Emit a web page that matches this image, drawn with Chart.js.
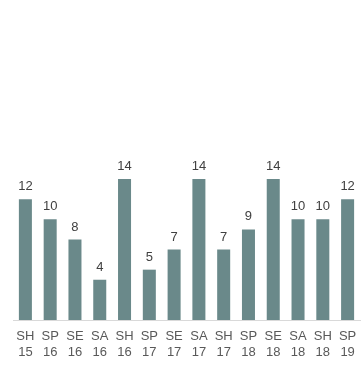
<!DOCTYPE html>
<html>
<head>
<meta charset="utf-8">
<script src="https://cdn.jsdelivr.net/npm/chart.js@4/dist/chart.umd.min.js"></script>
<style>
  html, body { margin: 0; padding: 0; background: #fff; }
  #wrap { width: 364px; height: 371px; position: relative; }
</style>
</head>
<body>
<div id="wrap"><canvas id="barChart"></canvas></div>
<script>
// 데이터
const seasons = ['SH', 'SP', 'SE', 'SA', 'SH', 'SP', 'SE', 'SA', 'SH', 'SP', 'SE', 'SA', 'SH', 'SP'];
const years = ['15', '16', '16', '16', '16', '17', '17', '17', '17', '18', '18', '18', '18', '19'];
const counts = [12, 10, 8, 4, 14, 5, 7, 14, 7, 9, 14, 10, 10, 12];

const labels = seasons.map((s, i) => [s, years[i]]);

// 막대 위 값 표시
const valueLabels = {
    id: 'valueLabels',
    afterDatasetsDraw(chart) {
        const ctx = chart.ctx;
        const meta = chart.getDatasetMeta(0);
        ctx.save();
        ctx.font = '13px "Liberation Sans", Arial, sans-serif';
        ctx.fillStyle = '#404040';
        ctx.textAlign = 'center';
        ctx.textBaseline = 'bottom';
        meta.data.forEach((bar, i) => {
            ctx.fillText(counts[i], bar.x, bar.y - 6);
        });
        ctx.restore();
    }
};

document.addEventListener('DOMContentLoaded', function() {
    const ctx = document.getElementById('barChart');
    new Chart(ctx, {
        type: 'bar',
        data: {
            labels: labels,
            datasets: [{
                data: counts,
                backgroundColor: '#6a898a',
                categoryPercentage: 1,
                barPercentage: 0.525
            }]
        },
        options: {
            responsive: true,
            maintainAspectRatio: false,
            animation: false,
            layout: {
                padding: { top: 18, left: 13, right: 4, bottom: 11 }
            },
            plugins: {
                legend: { display: false },
                tooltip: { enabled: false }
            },
            scales: {
                x: {
                    grid: { display: false },
                    border: { color: '#d9d9d9', width: 1 },
                    ticks: {
                        color: '#595959',
                        font: { family: '"Liberation Sans", Arial, sans-serif', size: 13, lineHeight: '16px' },
                        maxRotation: 0,
                        autoSkip: false,
                        padding: 0
                    }
                },
                y: {
                    display: false,
                    min: 0,
                    max: 30
                }
            }
        },
        plugins: [valueLabels]
    });
});
</script>
</body>
</html>
